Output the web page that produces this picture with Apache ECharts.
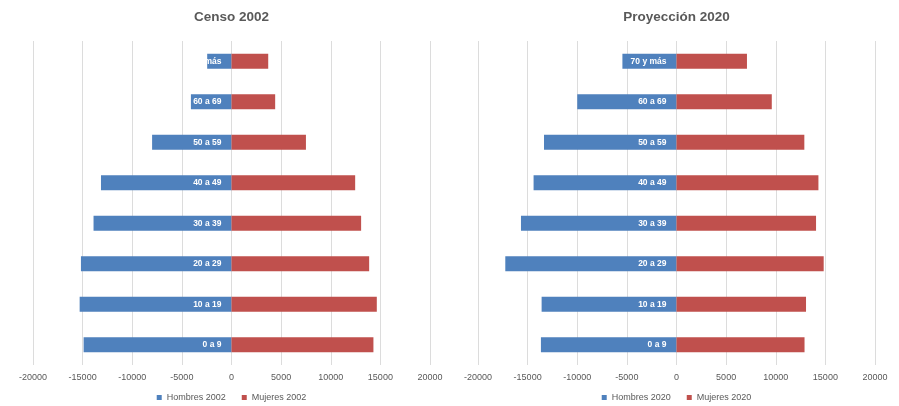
<!DOCTYPE html>
<html>
<head>
<meta charset="utf-8">
<script src="https://cdn.jsdelivr.net/npm/echarts@6/dist/echarts.min.js"></script>
<style>
  html, body { margin: 0; padding: 0; background: #fff; }
  #chart { width: 899px; height: 406px; }
</style>
</head>
<body>
<div id="chart"></div>
<script>
// Age groups, bottom to top
const categories = ['0 a 9', '10 a 19', '20 a 29', '30 a 39', '40 a 49', '50 a 59', '60 a 69', '70 y más'];

// Censo 2002 (men shown as negative values)
const hombres2002 = [-14900, -15300, -15170, -13900, -13150, -8000, -4090, -2450];
const mujeres2002 = [14300, 14640, 13870, 13060, 12460, 7500, 4400, 3700];

// Proyección 2020
const hombres2020 = [-13660, -13590, -17250, -15670, -14400, -13350, -10000, -5450];
const mujeres2020 = [12900, 13050, 14830, 14060, 14300, 12880, 9600, 7100];

const titles = ['Censo 2002', 'Proyección 2020'];
const legendNames = [['Hombres 2002', 'Mujeres 2002'], ['Hombres 2020', 'Mujeres 2020']];

const FONT = "'Liberation Sans', Arial, sans-serif";
const BLUE = '#4F81BD';
const RED = '#C0504D';
const GREY = '#595959';

const grids = [
  { left: 33, width: 397, top: 41, height: 324 },
  { left: 478, width: 397, top: 41, height: 324 }
];
const centers = grids.map(g => g.left + g.width / 2);

const xAxes = grids.map((g, i) => ({
  type: 'value', gridIndex: i, min: -20000, max: 20000, interval: 5000,
  axisLine: { show: false }, axisTick: { show: false },
  splitLine: { lineStyle: { color: '#dcdcdc', width: 1 } },
  axisLabel: { color: GREY, fontFamily: FONT, fontSize: 9, margin: 8, formatter: v => String(v) }
}));
const yAxes = grids.map((g, i) => ({
  type: 'category', gridIndex: i, data: categories,
  axisLine: { show: false }, axisTick: { show: false }, axisLabel: { show: false }
}));

function menSeries(name, data, idx) {
  return {
    name, type: 'bar', stack: 'p' + idx, xAxisIndex: idx, yAxisIndex: idx,
    data, barWidth: 15, itemStyle: { color: BLUE },
    label: {
      show: true, position: 'insideRight', distance: 10,
      formatter: p => p.name, color: '#fff', fontFamily: FONT, fontWeight: 'bold', fontSize: 8.5
    }
  };
}
function womenSeries(name, data, idx) {
  return {
    name, type: 'bar', stack: 'p' + idx, xAxisIndex: idx, yAxisIndex: idx,
    data, barWidth: 15, itemStyle: { color: RED }
  };
}

const option = {
  animation: false,
  backgroundColor: '#fff',
  title: titles.map((t, i) => ({
    text: t, left: centers[i], top: 10, textAlign: 'center', padding: 0,
    textStyle: { fontFamily: FONT, fontWeight: 'bold', fontSize: 13.5, color: GREY }
  })),
  legend: legendNames.map((names, i) => ({
    data: names, left: centers[i], top: 393, padding: 0,
    itemWidth: 5, itemHeight: 5, itemGap: 16, icon: 'rect',
    textStyle: { fontFamily: FONT, fontSize: 9, color: GREY }
  })),
  grid: grids,
  xAxis: xAxes,
  yAxis: yAxes,
  series: [
    menSeries(legendNames[0][0], hombres2002, 0),
    womenSeries(legendNames[0][1], mujeres2002, 0),
    menSeries(legendNames[1][0], hombres2020, 1),
    womenSeries(legendNames[1][1], mujeres2020, 1)
  ]
};

const chart = echarts.init(document.getElementById('chart'));
chart.setOption(option);

// Centre each legend under its chart
const updates = [0, 1].map(i => {
  const view = chart.getViewOfComponentModel(chart.getModel().getComponent('legend', i));
  const w = view.group.getBoundingRect().width;
  return { left: centers[i] - w / 2 };
});
chart.setOption({ legend: updates });
</script>
</body>
</html>
